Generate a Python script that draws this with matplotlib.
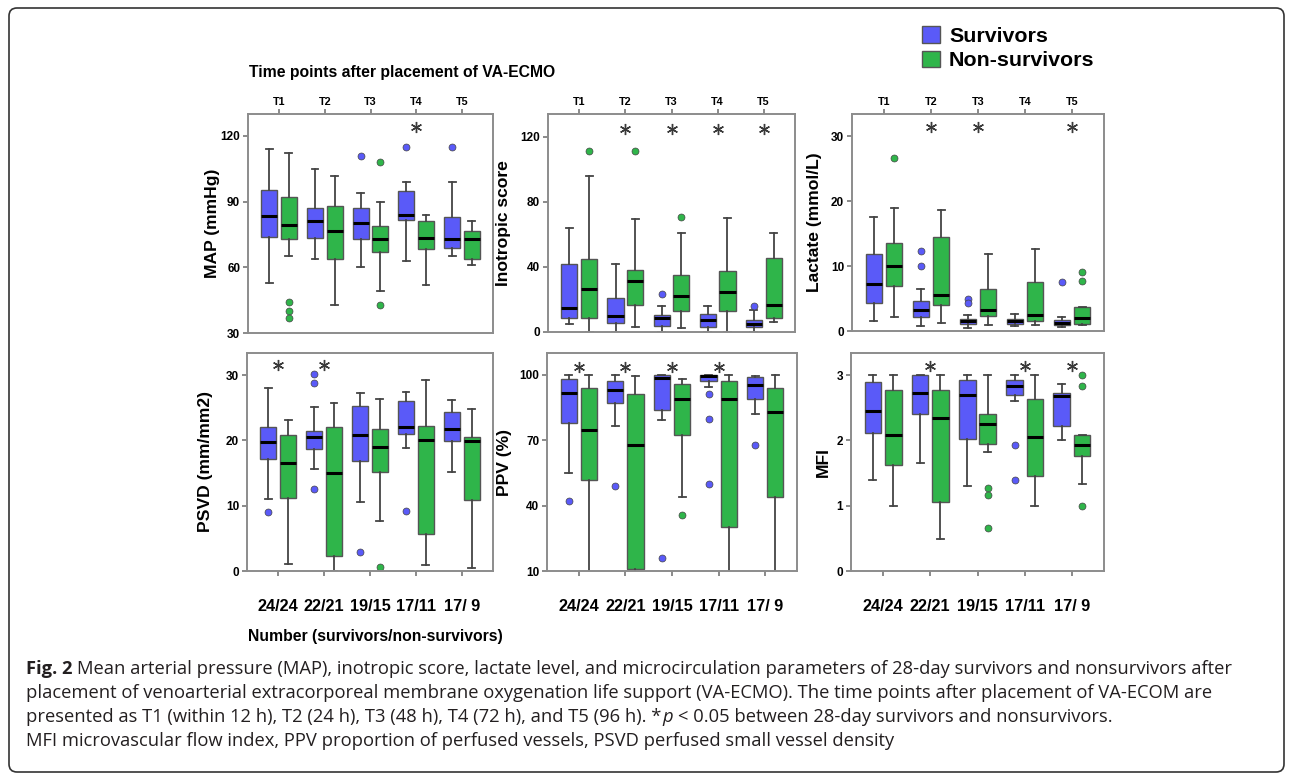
import matplotlib
matplotlib.use('Agg')
import matplotlib.pyplot as plt
from matplotlib.patches import Patch, FancyBboxPatch
from matplotlib.transforms import IdentityTransform

plt.rcParams['font.family'] = ['Liberation Sans', 'DejaVu Sans']
plt.rcParams['font.weight'] = 'bold'

# ---- data ----
times = ['T1', 'T2', 'T3', 'T4', 'T5']
counts = ['24/24', '22/21', '19/15', '17/11', '17/ 9']

# each tuple: (whisker low, q1, median, q3, whisker high)
map_surv = [(53, 73.8, 83.5, 95.4, 114), (64, 73.5, 81, 87.3, 105), (60, 73, 80.3, 87.3, 93.7),
            (63, 81.7, 84, 94.8, 98.8), (65, 69, 73, 83, 98.8)]
map_surv_out = [[], [], [110.7], [114.8], [114.8]]
map_non = [(65, 73, 79.4, 92, 112), (43, 64, 76.8, 88, 101.8), (49, 67, 73, 79, 89.8),
           (52, 68.4, 73.6, 81.2, 84), (61, 64, 73, 76.8, 81)]
map_non_out = [[44, 40, 37], [], [108, 43], [], []]
map_sig = [4]

ino_surv = [(4.9, 8.8, 14.9, 41.9, 63.8), (0, 5.7, 10, 20.9, 41.9), (0, 3.5, 8.8, 10.6, 15.7),
            (0, 2.9, 7.5, 11.2, 15.7), (0, 2.9, 4.9, 7.6, 13.3)]
ino_surv_out = [[], [], [23.5], [], [15.7]]
ino_non = [(0, 8.8, 26.6, 44.6, 95.9), (3.3, 16.6, 31.5, 38.2, 69.5), (2.2, 12.7, 22.1, 35, 60.7),
           (0, 13.1, 24.7, 37.8, 70.3), (5.9, 8.4, 16.8, 45.4, 61.1)]
ino_non_out = [[111], [111], [70.8], [], []]
ino_sig = [2, 3, 4, 5]

lac_surv = [(1.5, 4.3, 7.3, 11.9, 17.6), (0.8, 2.1, 3.2, 4.6, 6.5), (0.5, 1.1, 1.6, 1.9, 2.4),
            (0.7, 1.1, 1.5, 1.9, 2.6), (0.6, 0.9, 1.3, 1.7, 2.1)]
lac_surv_out = [[], [12.3, 10], [4.9, 4.3], [], [7.6]]
lac_non = [(2.2, 7, 10, 13.5, 19), (1.3, 4, 5.6, 14.4, 18.7), (1.0, 2.3, 3.3, 6.4, 11.9),
           (0.9, 1.5, 2.4, 7.5, 12.6), (0.9, 1.1, 2.0, 3.7, 3.7)]
lac_non_out = [[26.7], [], [], [], [9.1, 7.7]]
lac_sig = [2, 3, 5]

psvd_surv = [(11, 17.1, 19.8, 22.1, 28), (15.7, 18.7, 20.5, 21.5, 25.1), (10.5, 16.8, 20.9, 25.3, 27.3),
             (18.8, 21, 22, 26, 27.5), (15.1, 19.9, 21.7, 24.3, 26.2)]
psvd_surv_out = [[9.0], [30.2, 28.8, 12.5], [2.9], [9.2], []]
psvd_non = [(1.0, 11.2, 16.5, 20.9, 23.2), (0, 2.3, 15, 22, 25.7), (7.6, 15.2, 19, 21.8, 26.4),
            (0.9, 5.7, 20, 22.2, 29.3), (0.5, 10.9, 19.9, 20.6, 24.8)]
psvd_non_out = [[], [], [0.6], [], []]
psvd_sig = [1, 2]

ppv_surv = [(54.9, 77.8, 91.5, 97.9, 100), (76.7, 87.1, 93.2, 97, 100), (79.2, 84, 98.5, 99.7, 100),
            (94.4, 97.1, 99.5, 99.9, 100), (81.9, 89.1, 95.3, 99.1, 99.6)]
ppv_surv_out = [[41.9], [48.9], [15.9], [91, 79.9, 50], [67.6]]
ppv_non = [(0, 51.8, 74.5, 93.9, 100), (0, 11.1, 67.9, 91, 99.3), (43.9, 72.3, 89, 96, 98),
           (0, 30.4, 89, 97, 100), (0, 44.1, 83.1, 93.9, 100)]
ppv_non_out = [[], [], [35.8], [], []]
ppv_sig = [1, 2, 3, 4]

mfi_surv = [(1.4, 2.11, 2.45, 2.9, 3), (1.66, 2.4, 2.72, 3.0, 3.0), (1.3, 2.03, 2.7, 2.93, 3),
            (2.6, 2.7, 2.83, 2.93, 3), (2.0, 2.22, 2.68, 2.73, 2.87)]
mfi_surv_out = [[], [], [], [1.93, 1.39], []]
mfi_non = [(1.0, 1.63, 2.09, 2.77, 3), (0.49, 1.06, 2.35, 2.77, 3), (1.82, 1.94, 2.25, 2.4, 3),
           (1.0, 1.45, 2.06, 2.64, 3), (1.33, 1.76, 1.93, 2.09, 2.09)]
mfi_non_out = [[], [], [1.27, 1.17, 0.66], [], [3.0, 2.83, 1.0]]
mfi_sig = [2, 4, 5]

BLUE = '#5a5af8'
GREEN = '#2fb54a'
W, H = 1292, 774

fig = plt.figure(figsize=(W / 100, H / 100), dpi=100)


def px_axes(x0, y0, x1, y1):
    return fig.add_axes([x0 / W, 1 - y1 / H, (x1 - x0) / W, (y1 - y0) / H])


def draw_groups(ax, surv, surv_out, non, non_out):
    for stats, outs, off, color in ((surv, surv_out, -0.215, BLUE), (non, non_out, 0.215, GREEN)):
        bstats = [dict(whislo=s[0], q1=s[1], med=s[2], q3=s[3], whishi=s[4], fliers=o)
                  for s, o in zip(stats, outs)]
        ax.bxp(bstats, positions=[i + 1 + off for i in range(len(bstats))], widths=0.35,
               patch_artist=True, manage_ticks=False, capwidths=0.15,
               boxprops=dict(facecolor=color, edgecolor='#555555', linewidth=1),
               medianprops=dict(color='black', linewidth=2.2),
               whiskerprops=dict(color='#444444', linewidth=1.3),
               capprops=dict(color='#444444', linewidth=1.3),
               flierprops=dict(marker='o', markerfacecolor=color, markeredgecolor='#444444',
                               markersize=5, markeredgewidth=0.5))


panels = [
    # rect px, data, ylabel, ylim, yticks, star level, label x, top row
    ((248, 114, 493, 333), (map_surv, map_surv_out, map_non, map_non_out), map_sig,
     'MAP (mmHg)', (30, 130), [30, 60, 90, 120], 124, -0.143, True),
    ((548, 114, 795, 332), (ino_surv, ino_surv_out, ino_non, ino_non_out), ino_sig,
     'Inotropic score', (0, 134), [0, 40, 80, 120], 125, -0.182, True),
    ((852, 114, 1104, 331), (lac_surv, lac_surv_out, lac_non, lac_non_out), lac_sig,
     'Lactate (mmol/L)', (0, 33.4), [0, 10, 20, 30], 31.4, -0.15, True),
    ((247, 353, 493, 571), (psvd_surv, psvd_surv_out, psvd_non, psvd_non_out), psvd_sig,
     'PSVD (mm/mm2)', (0, 33.4), [0, 10, 20, 30], 31.6, -0.17, False),
    ((547, 353, 797, 571), (ppv_surv, ppv_surv_out, ppv_non, ppv_non_out), ppv_sig,
     'PPV (%)', (10, 110), [10, 40, 70, 100], 103.8, -0.168, False),
    ((851, 353, 1104, 571), (mfi_surv, mfi_surv_out, mfi_non, mfi_non_out), mfi_sig,
     'MFI', (0, 3.34), [0, 1, 2, 3], 3.14, -0.11, False),
]

for rect, data, sig, ylabel, ylim, yticks, star_y, lab_x, top in panels:
    ax = px_axes(*rect)
    draw_groups(ax, *data)
    ax.set_xlim(0.32, 5.68)
    ax.set_ylim(*ylim)
    ax.set_yticks(yticks)
    for sp in ax.spines.values():
        sp.set_color('#8c8c8c')
        sp.set_linewidth(1.4)
    ax.tick_params(axis='y', direction='out', length=3.6, width=1.2, color='#777777',
                   labelsize=8.5, pad=2)
    if top:
        ax.xaxis.tick_top()
        ax.set_xticks(range(1, 6), times)
        ax.tick_params(axis='x', direction='out', length=3.6, width=1.2, color='#777777',
                       labelsize=7.8, pad=1.5)
    else:
        ax.set_xticks(range(1, 6), counts)
        ax.tick_params(axis='x', direction='out', length=3.6, width=1.2, color='#777777',
                       labelsize=11.7, pad=16.5)
    ax.set_ylabel(ylabel, fontsize=12.6, fontweight='bold')
    ax.yaxis.label.set_va('center')
    ax.yaxis.set_label_coords(lab_x, 0.5)
    ax.plot(sig, [star_y] * len(sig), ls='none', marker=(6, 2, 0), ms=8, mew=1.0,
            color='#3a3a3a')

fig.text(249 / W, 1 - 72 / H, 'Time points after placement of VA-ECMO', ha='left',
         va='center', fontsize=11.3, fontweight='bold')
fig.text(248 / W, 1 - 636 / H, 'Number (survivors/non-survivors)', ha='left',
         va='center', fontsize=11.3, fontweight='bold')

fig.legend(handles=[Patch(facecolor=BLUE, edgecolor='#555555', label='Survivors'),
                    Patch(facecolor=GREEN, edgecolor='#555555', label='Non-survivors')],
           loc='upper left', bbox_to_anchor=(922 / W, 1 - 26 / H), frameon=False,
           prop=dict(family='Liberation Sans', weight='bold', size=15.4),
           handlelength=0.84, handleheight=0.84, handletextpad=0.42, labelspacing=0.22,
           borderpad=0, borderaxespad=0)

# ---- caption ----
cap = fig.add_axes([0, 0, 1, 1])
cap.axis('off')
cap.set_xlim(0, W)
cap.set_ylim(H, 0)

cap_font = dict(family=['Open Sans', 'DejaVu Sans'], size=13.2, color='#231f20')
caption_lines = [
    [('Fig. 2', 'bold', 'normal', 0),
     ('Mean arterial pressure (MAP), inotropic score, lactate level, and microcirculation '
      'parameters of 28-day survivors and nonsurvivors after', 'normal', 'normal', 3.4)],
    [('placement of venoarterial extracorporeal membrane oxygenation life support (VA-ECMO). '
      'The time points after placement of VA-ECOM are', 'normal', 'normal', 0)],
    [('presented as T1 (within 12 h), T2 (24 h), T3 (48 h), T4 (72 h), and T5 (96 h). *',
      'normal', 'normal', 0),
     ('p', 'normal', 'italic', 0.6),
     ('< 0.05 between 28-day survivors and nonsurvivors.', 'normal', 'normal', 3.4)],
    [('MFI microvascular flow index, PPV proportion of perfused vessels, PSVD perfused small '
      'vessel density', 'normal', 'normal', 0)],
]
line_y = [669, 693, 717, 741]
for pieces, y in zip(caption_lines, line_y):
    prev = None
    for text, weight, style, gap in pieces:
        if prev is None:
            prev = cap.text(26, y, text, ha='left', va='center', fontweight=weight,
                            fontstyle=style, **cap_font)
        else:
            prev = cap.annotate(text, xy=(1, 0.5), xycoords=prev, xytext=(gap, 0),
                                textcoords='offset points', ha='left', va='center',
                                fontweight=weight, fontstyle=style, **cap_font)

frame = FancyBboxPatch((9, 2), 1275, 764, boxstyle='round,pad=0,rounding_size=8',
                       transform=IdentityTransform(), fill=False, ec='#333333', lw=1.2)
fig.add_artist(frame)

fig.savefig('out.png', dpi=100)
